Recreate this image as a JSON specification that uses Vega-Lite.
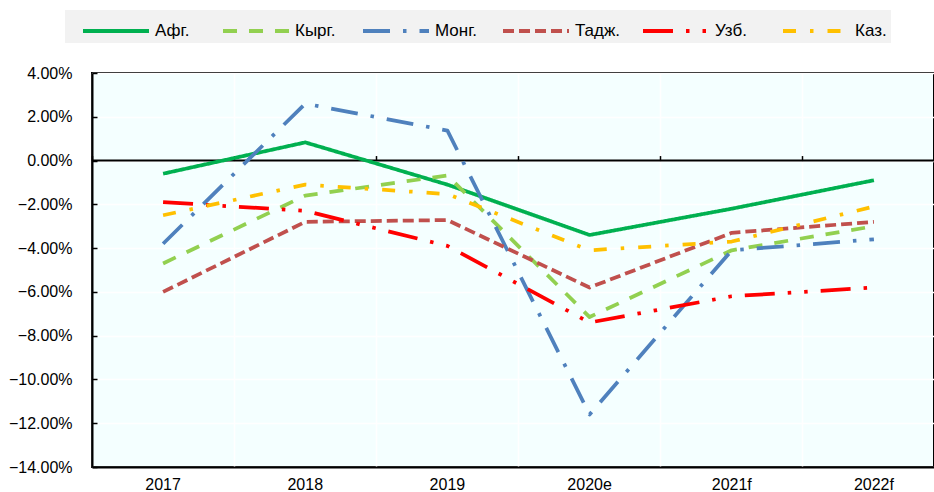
{
  "$schema": "https://vega.github.io/schema/vega-lite/v6.json",
  "width": 842,
  "height": 394,
  "autosize": {"type": "none"},
  "padding": {"left": 92, "top": 73, "right": 0, "bottom": 25},
  "background": "white",
  "config": {
    "view": {"fill": "#F4FFFF", "stroke": "#000000", "strokeWidth": 2},
    "font": "Liberation Sans"
  },
  "datasets": {
    "rates": [
      {"country": "Афг.", "year": "2017", "value": -0.006},
      {"country": "Афг.", "year": "2018", "value": 0.0083},
      {"country": "Афг.", "year": "2019", "value": -0.011},
      {"country": "Афг.", "year": "2020e", "value": -0.034},
      {"country": "Афг.", "year": "2021f", "value": -0.022},
      {"country": "Афг.", "year": "2022f", "value": -0.009},
      {"country": "Кырг.", "year": "2017", "value": -0.047},
      {"country": "Кырг.", "year": "2018", "value": -0.016},
      {"country": "Кырг.", "year": "2019", "value": -0.0068},
      {"country": "Кырг.", "year": "2020e", "value": -0.0715},
      {"country": "Кырг.", "year": "2021f", "value": -0.041},
      {"country": "Кырг.", "year": "2022f", "value": -0.030},
      {"country": "Монг.", "year": "2017", "value": -0.038},
      {"country": "Монг.", "year": "2018", "value": 0.026},
      {"country": "Монг.", "year": "2019", "value": 0.0137},
      {"country": "Монг.", "year": "2020e", "value": -0.116},
      {"country": "Монг.", "year": "2021f", "value": -0.041},
      {"country": "Монг.", "year": "2022f", "value": -0.036},
      {"country": "Тадж.", "year": "2017", "value": -0.060},
      {"country": "Тадж.", "year": "2018", "value": -0.028},
      {"country": "Тадж.", "year": "2019", "value": -0.0272},
      {"country": "Тадж.", "year": "2020e", "value": -0.058},
      {"country": "Тадж.", "year": "2021f", "value": -0.033},
      {"country": "Тадж.", "year": "2022f", "value": -0.028},
      {"country": "Узб.", "year": "2017", "value": -0.019},
      {"country": "Узб.", "year": "2018", "value": -0.023},
      {"country": "Узб.", "year": "2019", "value": -0.039},
      {"country": "Узб.", "year": "2020e", "value": -0.074},
      {"country": "Узб.", "year": "2021f", "value": -0.062},
      {"country": "Узб.", "year": "2022f", "value": -0.058},
      {"country": "Каз.", "year": "2017", "value": -0.025},
      {"country": "Каз.", "year": "2018", "value": -0.011},
      {"country": "Каз.", "year": "2019", "value": -0.0153},
      {"country": "Каз.", "year": "2020e", "value": -0.041},
      {"country": "Каз.", "year": "2021f", "value": -0.037},
      {"country": "Каз.", "year": "2022f", "value": -0.021}
    ],
    "frame": [
      {"level": 0}
    ]
  },
  "resolve": {"axis": {"x": "independent"}},
  "layer": [
    {
      "data": {"name": "frame"},
      "mark": {"type": "rule", "color": "#000000", "strokeWidth": 2},
      "encoding": {"y": {"field": "level", "type": "quantitative"}}
    },
    {
      "data": {"name": "rates"},
      "mark": {"type": "line", "opacity": 0},
      "encoding": {
        "x": {
          "field": "year",
          "type": "ordinal",
          "sort": ["2017", "2018", "2019", "2020e", "2021f", "2022f"],
          "scale": {"type": "band", "paddingInner": 0, "paddingOuter": 0, "range": [0, 853]},
          "axis": {
            "orient": "top",
            "offset": -87.56,
            "title": null,
            "labels": false,
            "domain": false,
            "grid": false,
            "ticks": true,
            "tickSize": 5,
            "tickWidth": 1.5,
            "tickColor": "#000000",
            "bandPosition": 0
          }
        },
        "y": {"field": "value", "type": "quantitative"},
        "detail": {"field": "country"}
      }
    },
    {
      "data": {"name": "rates"},
      "mark": {"type": "line", "strokeWidth": 3.75, "strokeJoin": "round"},
      "encoding": {
        "x": {
          "field": "year",
          "type": "ordinal",
          "sort": ["2017", "2018", "2019", "2020e", "2021f", "2022f"],
          "scale": {"type": "band", "paddingInner": 0, "paddingOuter": 0, "range": [0, 853]},
          "axis": {
            "orient": "bottom",
            "title": null,
            "labelAngle": 0,
            "labelFont": "Liberation Sans",
            "labelFontSize": 16,
            "labelColor": "#000000",
            "labelPadding": 9,
            "ticks": false,
            "domainColor": "#000000",
            "domainWidth": 2,
            "grid": true,
            "gridColor": "#FFFFFF",
            "gridWidth": 1.5,
            "bandPosition": 0
          }
        },
        "y": {
          "field": "value",
          "type": "quantitative",
          "scale": {"domain": [-0.14, 0.04], "nice": false, "zero": false},
          "axis": {
            "title": null,
            "values": [-0.14, -0.12, -0.10, -0.08, -0.06, -0.04, -0.02, 0, 0.02, 0.04],
            "format": ".2%",
            "labelFont": "Liberation Sans",
            "labelFontSize": 16,
            "labelColor": "#000000",
            "tickSize": -5,
            "tickColor": "#000000",
            "tickWidth": 1.5,
            "labelPadding": 25,
            "domainColor": "#000000",
            "domainWidth": 2,
            "grid": true,
            "gridColor": "#FFFFFF",
            "gridWidth": 1.5
          }
        },
        "color": {
          "field": "country",
          "type": "nominal",
          "scale": {
            "domain": ["Афг.", "Кырг.", "Монг.", "Тадж.", "Узб.", "Каз."],
            "range": ["#00B050", "#92D050", "#4F81BD", "#C0504D", "#FF0000", "#FFC000"]
          },
          "legend": {
            "title": null,
            "orient": "none",
            "legendX": -27,
            "legendY": -63,
            "direction": "horizontal",
            "columns": 6,
            "gridAlign": "all",
            "columnPadding": 8,
            "fillColor": "#F2F2F2",
            "padding": 4,
            "symbolType": "M-0.2,0H4.2",
            "symbolSize": 900,
            "symbolStrokeWidth": 4,
            "labelFont": "Liberation Sans",
            "labelFontSize": 17,
            "labelColor": "#000000",
            "labelOffset": 52,
            "labelLimit": 200
          }
        },
        "strokeDash": {
          "field": "country",
          "type": "nominal",
          "scale": {
            "domain": ["Афг.", "Кырг.", "Монг.", "Тадж.", "Узб.", "Каз."],
            "range": [[1, 0], [14, 12], [27, 13, 3.5, 13], [11, 5], [30, 13, 3.5, 13, 3.5, 13], [13, 14, 3.5, 14]]
          },
          "legend": null
        }
      }
    }
  ]
}
